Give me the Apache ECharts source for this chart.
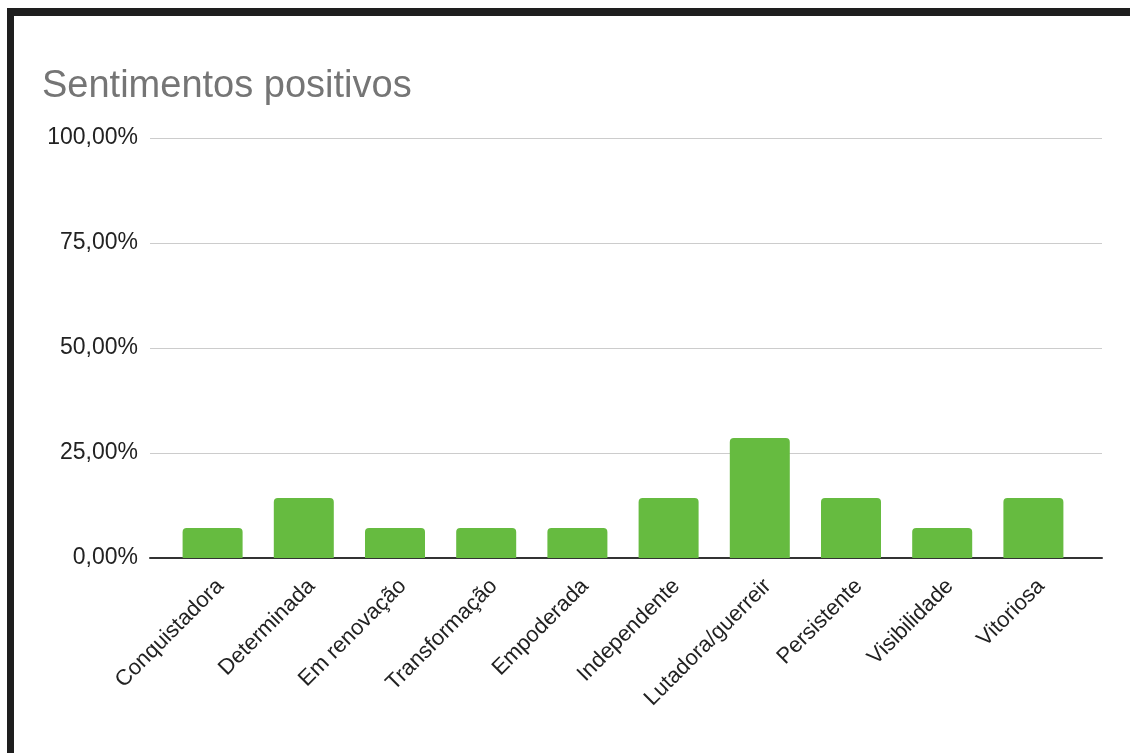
<!DOCTYPE html>
<html>
<head>
<meta charset="utf-8">
<script src="https://cdn.jsdelivr.net/npm/echarts@6/dist/echarts.min.js"></script>
<style>
  html, body { margin: 0; padding: 0; background: #fff; }
  #frame {
    position: absolute; left: 7px; top: 8px; width: 1123px; height: 745px;
    border-top: 8px solid #1e1e1e; border-left: 7px solid #1e1e1e;
    box-sizing: border-box;
  }
  #chart { position: absolute; left: 0; top: 0; width: 1130px; height: 753px; }
</style>
</head>
<body>
<div id="chart"></div>
<div id="frame"></div>
<script>
// categorias e percentuais (sentimentos positivos)
const categories = ['Conquistadora', 'Determinada', 'Em renovação', 'Transformação', 'Empoderada',
  'Independente', 'Lutadora/guerreir', 'Persistente', 'Visibilidade', 'Vitoriosa']
const values = [7.14, 14.29, 7.14, 7.14, 7.14, 14.29, 28.57, 14.29, 7.14, 14.29]
const yTicks = [0, 25, 50, 75, 100]

const fontFamily = 'Liberation Sans, Arial, sans-serif'
let myChart = echarts.init(document.getElementById('chart'))
let option = {
  backgroundColor: '#fff',
  animation: false,
  title: {
    text: 'Sentimentos positivos',
    left: 37, top: 63,
    textStyle: { color: '#757575', fontSize: 38, fontWeight: 'normal', fontFamily: fontFamily }
  },
  grid: [
    // grade larga: linhas de grade e eixo
    { left: 150, right: 28, top: 138, bottom: 195 },
    // grade estreita: barras e rótulos
    { left: 167, right: 51, top: 138, bottom: 195 }
  ],
  xAxis: [
    {
      type: 'category', gridIndex: 0, data: [''],
      axisLine: { show: true, lineStyle: { color: '#333', width: 2 } },
      axisTick: { show: false }, axisLabel: { show: false }
    },
    {
      type: 'category', gridIndex: 1, data: categories,
      axisLine: { show: false }, axisTick: { show: false },
      axisLabel: {
        rotate: 45, interval: 0, margin: 17, verticalAlign: 'top',
        color: '#222', fontSize: 22, fontFamily: fontFamily
      }
    }
  ],
  yAxis: [
    {
      type: 'value', gridIndex: 0, min: yTicks[0], max: yTicks[yTicks.length - 1], interval: 25,
      axisLine: { show: false }, axisTick: { show: false },
      axisLabel: {
        margin: 12, color: '#222', fontSize: 23, fontFamily: fontFamily,
        formatter: v => v.toFixed(2).replace('.', ',') + '%'
      },
      splitLine: { lineStyle: { color: '#cccccc', width: 1 } }
    },
    {
      type: 'value', gridIndex: 1, min: 0, max: 100, interval: 25,
      show: false, splitLine: { show: false }
    }
  ],
  series: [{
    type: 'bar',
    xAxisIndex: 1, yAxisIndex: 1,
    data: values,
    barWidth: 60,
    itemStyle: { color: '#66bb40', borderRadius: [4, 4, 0, 0] }
  }]
}
myChart.setOption(option)
</script>
</body>
</html>
